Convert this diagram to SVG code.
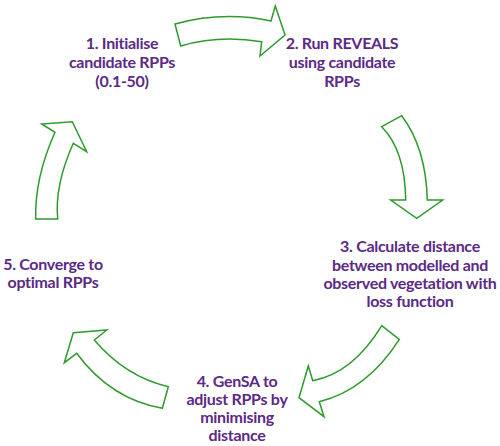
<svg xmlns="http://www.w3.org/2000/svg" width="500" height="446" viewBox="0 0 500 446">
<style>
.lbl{font-family:"Lato","Liberation Sans",sans-serif;font-weight:bold;font-size:16px;letter-spacing:-0.3px;fill:#5B2A86;text-anchor:middle}
.arr{fill:#ffffff;stroke:#2E9A2E;stroke-width:1.5;stroke-linejoin:miter}
</style>
<rect width="500" height="446" fill="#ffffff"/>
<g id="connectors">
<path class="arr" d="M175,24 Q223,10.9 271,21 L275.3,6 L285,35 L260,56 L261.7,41.7 Q218.8,34.8 180.7,46 Z"/>
<path class="arr" d="M381.7,126.7 L401.7,115.7 Q426,148 427.3,200 L442.7,200 L416.7,218.3 L390.7,200 L405.7,200 Q405,150 381.7,126.7 Z"/>
<path class="arr" d="M381.7,325.7 L399.3,339.3 Q367.3,389.5 319.3,401.7 L324,416.7 L299,397.7 L308.3,366 L312.7,380.7 Q352.8,373.4 381.7,325.7 Z"/>
<path class="arr" d="M73.3,332.7 L106.7,330 L94.3,340 Q125.3,376.6 168.3,386.7 L162.3,408.3 Q110.5,399.2 76.7,353.3 L64.3,362.7 Z"/>
<path class="arr" d="M35.7,219 L57.7,219 Q54.5,185.4 73.3,143.3 L86.7,151.7 L72.3,121.7 L41.7,124 L55,132.3 Q34.65,177.75 35.7,219 Z"/>
</g>
<g id="node1">
<text class="lbl" x="122" y="48.5">1. Initialise</text>
<text class="lbl" x="122" y="67.5">candidate RPPs</text>
<text class="lbl" x="122" y="86.5">(0.1-50)</text>
</g>
<g id="node2">
<text class="lbl" x="342" y="48.5">2. Run REVEALS</text>
<text class="lbl" x="342" y="67.5">using candidate</text>
<text class="lbl" x="342" y="86.5">RPPs</text>
</g>
<g id="node3">
<text class="lbl" x="410" y="252.3">3. Calculate distance</text>
<text class="lbl" x="410" y="270.7">between modelled and</text>
<text class="lbl" x="410" y="289">observed vegetation with</text>
<text class="lbl" x="410" y="307.3">loss function</text>
</g>
<g id="node4">
<text class="lbl" x="237" y="386.5">4. GenSA to</text>
<text class="lbl" x="237" y="405">adjust RPPs by</text>
<text class="lbl" x="237" y="423">minimising</text>
<text class="lbl" x="237" y="441">distance</text>
</g>
<g id="node5">
<text class="lbl" x="53" y="270">5. Converge to</text>
<text class="lbl" x="53" y="288.3">optimal RPPs</text>
</g>
</svg>
